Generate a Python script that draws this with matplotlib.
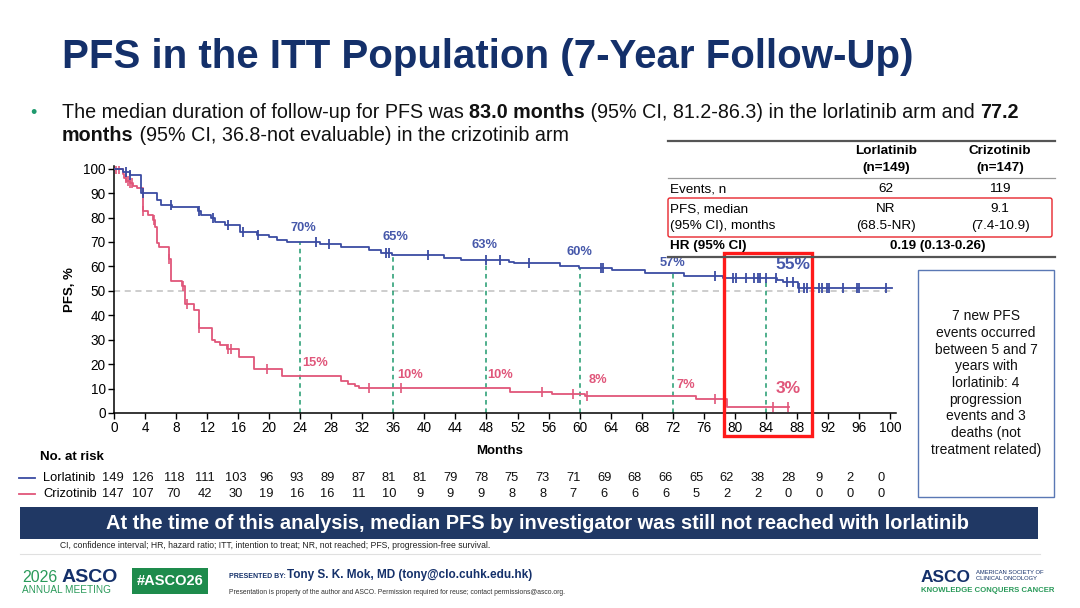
import numpy as np
import matplotlib
matplotlib.use("Agg")
import matplotlib.pyplot as plt
from matplotlib.patches import Rectangle, FancyBboxPatch
from matplotlib.transforms import blended_transform_factory

plt.rcParams['font.family'] = ['Liberation Sans', 'DejaVu Sans']

# --- data ---
lor_t = [0, 1.2, 2.0, 3.5, 5.6, 6.1, 7.5, 10.8, 11.2, 12.5, 13.0, 14.3, 16.3, 18.4, 20.0, 21.0, 22.3,
         26.5, 29.2, 32.8, 34.4, 35.8, 42.5, 44.7, 50.9, 51.6, 57.5, 59.9, 64.2, 68.4, 73.4, 78.5,
         85.4, 86.2, 88.2, 100.2]
lor_s = [100, 98.8, 97.5, 90, 87, 85, 84.3, 82.5, 81, 80, 78.3, 77, 74, 73, 72, 71, 70,
         69, 67.8, 66.8, 65.3, 64.5, 63.5, 62.8, 62, 61.3, 60.3, 59.5, 58.5, 57.3, 56, 55.4,
         54.4, 53.5, 51.2, 51.2]
lor_cens = [1.5, 2.0, 3.8, 7.4, 11.0, 12.8, 14.7, 16.6, 18.5, 26.0, 27.7, 35.0, 35.5, 40.5, 47.9,
            49.8, 53.5, 62.7, 63.0, 77.5, 79.8, 80.2, 81.5, 82.5, 83.0, 83.3, 84.0, 85.3, 86.7,
            87.5, 88.3, 88.9, 89.3, 90.8, 91.3, 91.9, 92.2, 94.0, 95.8, 96.0, 99.5]

criz_t = [0, 1.1, 1.3, 1.6, 2.0, 2.5, 3.0, 3.7, 4.4, 5.0, 5.3, 5.6, 5.8, 7.1, 7.3, 7.4, 8.7, 9.1,
          10.3, 11.0, 12.6, 13.0, 13.6, 14.6, 16.1, 18.1, 21.7, 29.3, 30.2, 31.0, 31.6, 51.0,
          56.4, 60.7, 75.0, 79.0, 87.0]
criz_s = [100, 98, 96, 95, 94, 93, 92, 82.5, 81, 79, 76, 69.5, 68, 63, 55, 54.2, 52, 44.5,
          42.2, 34.8, 30, 29, 28, 26.2, 22.8, 17.9, 15, 13, 12, 11, 10.2, 8.7, 7.6, 6.8, 5.6,
          2.6, 2.6]
criz_cens = [0.3, 0.6, 1.5, 1.8, 2.0, 2.3, 3.7, 5.2, 7.1, 8.9, 9.4, 11.0, 14.7, 15.1, 19.7,
             32.9, 37.0, 55.2, 59.2, 60.9, 77.4, 84.9, 86.8]

landmarks = [24, 36, 48, 60, 72, 84]
lor_land = [70, 65, 63, 60, 57, 55]
criz_land = [15, 10, 10, 8, 7, 3]

risk_months = list(range(0, 101, 4))
lor_risk = [149, 126, 118, 111, 103, 96, 93, 89, 87, 81, 81, 79, 78, 75, 73, 71, 69, 68, 66, 65,
            62, 38, 28, 9, 2, 0]
criz_risk = [147, 107, 70, 42, 30, 19, 16, 16, 11, 10, 9, 9, 9, 8, 8, 7, 6, 6, 6, 5, 2, 2, 0, 0, 0, 0]

BLUE = '#3b4ca2'
RED = '#e0567a'
GREEN = '#1f9a6e'
NAVY = '#14306a'

W, H = 1080, 608


def step_at(t, s, x):
    idx = np.searchsorted(t, x, side='right') - 1
    return np.asarray(s)[idx]


fig = plt.figure(figsize=(W / 100, H / 100), dpi=100)
fig.patch.set_facecolor('white')

# main KM axes (month 0 at px 114, 7.76 px / month; 0% at px 413, 2.443 px / %)
x0, y0 = 114, 413
ax = fig.add_axes([x0 / W, 1 - y0 / H, 100.8 * 7.76 / W, 101 * 2.443 / H])
ax.set_xlim(0, 100.8)
ax.set_ylim(0, 101)
for sp in ['top', 'right']:
    ax.spines[sp].set_visible(False)
ax.spines['left'].set_linewidth(1.1)
ax.spines['bottom'].set_linewidth(1.1)
ax.set_xticks(range(0, 101, 4))
ax.set_yticks(range(0, 101, 10))
ax.tick_params(labelsize=9.8, length=4, width=1, direction='out', pad=2)
ax.set_ylabel('PFS, %', fontsize=9.5, fontweight='bold', labelpad=5)

ax.axhline(50, xmax=100.5 / 100.8, color='#c0c0c0', lw=1.1, ls=(0, (4, 3)), zorder=1)

for m in landmarks:
    ax.plot([m, m], [0, step_at(lor_t, lor_s, m)], color=GREEN, lw=1.1, ls=(0, (3, 2.5)), zorder=2)

ax.plot(criz_t, criz_s, drawstyle='steps-post', color=RED, lw=1.3, zorder=3)
ax.plot(lor_t, lor_s, drawstyle='steps-post', color=BLUE, lw=1.3, zorder=4)
ax.plot(criz_cens, step_at(criz_t, criz_s, criz_cens), ls='none', marker='|', ms=7, mew=1.2,
        color=RED, zorder=3)
ax.plot(lor_cens, step_at(lor_t, lor_s, lor_cens), ls='none', marker='|', ms=7, mew=1.3,
        color=BLUE, zorder=4)

lor_off = [(0.4, 5.8), (0.3, 7.0), (-0.3, 5.8), (0.0, 5.8), (0.0, 4.4), (3.5, 5.9)]
criz_off = [(1.9, 5.4), (2.1, 5.4), (1.7, 5.4), (2.4, 5.4), (1.7, 4.4), (2.9, 7.2)]
for i, m in enumerate(landmarks):
    big = (m == 84)
    ax.text(m + lor_off[i][0], lor_land[i] + lor_off[i][1], f'{lor_land[i]}%', color='#4658aa',
            fontsize=12.5 if big else 9.3, fontweight='bold', ha='center', va='center')
    ax.text(m + criz_off[i][0], criz_land[i] + criz_off[i][1], f'{criz_land[i]}%', color=RED,
            fontsize=12.5 if big else 9.3, fontweight='bold', ha='center', va='center')

# number at risk rows
tr = blended_transform_factory(ax.transData, fig.transFigure)
for vals, yy in [(lor_risk, 478), (criz_risk, 494)]:
    for m, v in zip(risk_months, vals):
        fig.text(m * 0.99 - 0.2, 1 - yy / H, str(v), transform=tr, fontsize=9.3, ha='center',
                 va='center', color='#111111')

# overlay axes in pixel coordinates for slide elements
ov = fig.add_axes([0, 0, 1, 1], zorder=10)
ov.set_xlim(0, W)
ov.set_ylim(H, 0)
ov.axis('off')

ov.text(62, 57, 'PFS in the ITT Population (7-Year Follow-Up)', fontsize=29, fontweight='bold',
        color=NAVY, va='center', ha='left')

# bullet text with bold runs
renderer = fig.canvas.get_renderer()


def runs(x, y, parts, size=14.2):
    for s, wgt in parts:
        t = ov.text(x, y, s, fontsize=size, fontweight=wgt, color='#111111', va='baseline')
        bb = t.get_window_extent(renderer)
        x += bb.width


ov.text(30, 118, '\u2022', fontsize=13, color='#1f9a6e', va='baseline')
runs(62, 118, [('The median duration of follow-up for PFS was ', 'normal'), ('83.0 months', 'bold'),
               (' (95% CI, 81.2-86.3) in the lorlatinib arm and ', 'normal'), ('77.2', 'bold')])
runs(62, 141, [('months', 'bold'), (' (95% CI, 36.8-not evaluable) in the crizotinib arm', 'normal')])

# summary table
ov.plot([668, 1055], [141, 141], color='#555555', lw=1.6)
ov.plot([668, 1055], [177.5, 177.5], color='#9a9a9a', lw=0.9)
ov.plot([668, 1055], [256.5, 256.5], color='#555555', lw=1.6)
ov.add_patch(FancyBboxPatch((668, 198), 384, 39, boxstyle='round,pad=0,rounding_size=2',
                            fill=False, edgecolor='#e8262c', lw=1.0))
tfs = 9.7
for cx, name, n in [(886, 'Lorlatinib', '(n=149)'), (1000, 'Crizotinib', '(n=147)')]:
    ov.text(cx, 151, name, fontsize=tfs, fontweight='bold', ha='center', va='center')
    ov.text(cx, 168, n, fontsize=tfs, fontweight='bold', ha='center', va='center')
ov.text(670, 189, 'Events, n', fontsize=tfs, va='center')
ov.text(886, 189, '62', fontsize=tfs, va='center', ha='center')
ov.text(1000, 189, '119', fontsize=tfs, va='center', ha='center')
ov.text(670, 209, 'PFS, median', fontsize=tfs, va='center')
ov.text(670, 226.5, '(95% CI), months', fontsize=tfs, va='center')
ov.text(886, 209, 'NR', fontsize=tfs, va='center', ha='center')
ov.text(886, 226.5, '(68.5-NR)', fontsize=tfs, va='center', ha='center')
ov.text(1000, 209, '9.1', fontsize=tfs, va='center', ha='center')
ov.text(1000, 226.5, '(7.4-10.9)', fontsize=tfs, va='center', ha='center')
ov.text(670, 246.5, 'HR (95% CI)', fontsize=tfs, fontweight='bold', va='center')
ov.text(938, 246.5, '0.19 (0.13-0.26)', fontsize=tfs, fontweight='bold', va='center', ha='center')

# red highlight box around 78-90 months
ov.add_patch(Rectangle((724, 253), 88, 183, fill=False, edgecolor='#ff1a1a', lw=2.4))

# note box
ov.add_patch(Rectangle((918, 270), 136, 227, facecolor='white', edgecolor='#5a78b4', lw=1.0))
ov.text(986, 383, '7 new PFS\nevents occurred\nbetween 5 and 7\nyears with\nlorlatinib: 4\n'
        'progression\nevents and 3\ndeaths (not\ntreatment related)', fontsize=10,
        ha='center', va='center', linespacing=1.25, color='#111111')

# axis titles / risk labels
ov.text(500, 451, 'Months', fontsize=9.5, fontweight='bold', ha='center', va='center')
ov.text(40, 457, 'No. at risk', fontsize=9.5, fontweight='bold', va='center')
ov.plot([19, 35], [478, 478], color=BLUE, lw=1.3)
ov.plot([19, 35], [494, 494], color=RED, lw=1.3)
ov.text(43, 478, 'Lorlatinib', fontsize=9.3, va='center')
ov.text(43, 494, 'Crizotinib', fontsize=9.3, va='center')

# banner
ov.add_patch(Rectangle((20, 507), 1018, 32, facecolor='#203864', edgecolor='none'))
ov.text(538, 523.5, 'At the time of this analysis, median PFS by investigator was still not reached with lorlatinib',
        fontsize=14.4, fontweight='bold', color='white', ha='center', va='center')
ov.text(275, 546, 'CI, confidence interval; HR, hazard ratio; ITT, intention to treat; NR, not reached; '
        'PFS, progression-free survival.', fontsize=6.2, ha='center', va='center', color='#222222')
ov.plot([20, 1040], [554, 554], color='#e0e0e0', lw=0.8)

# footer
ov.text(22, 577, '2026', fontsize=11.5, color='#2a9a5a', va='center')
ov.text(62, 577, 'ASCO', fontsize=14, color=NAVY, va='center', fontweight='bold')
ov.text(22, 590, 'ANNUAL MEETING', fontsize=7.2, color='#2a9a5a', va='center')
ov.add_patch(Rectangle((132, 568), 76, 26, facecolor='#1e8b4c', edgecolor='none'))
ov.text(170, 581, '#ASCO26', fontsize=10.5, fontweight='bold', color='white', ha='center', va='center')
ov.text(229, 576, 'PRESENTED BY:', fontsize=5, fontweight='bold', color=NAVY, va='center')
ov.text(287, 575, 'Tony S. K. Mok, MD (tony@clo.cuhk.edu.hk)', fontsize=8.5, fontweight='bold',
        color=NAVY, va='center')
ov.text(229, 592, 'Presentation is property of the author and ASCO. Permission required for reuse; '
        'contact permissions@asco.org.', fontsize=4.9, color='#333333', va='center')
ov.text(921, 577, 'ASCO', fontsize=12.5, fontweight='bold', color=NAVY, va='center')
ov.text(976, 573, 'AMERICAN SOCIETY OF', fontsize=4.2, color=NAVY, va='center')
ov.text(976, 579, 'CLINICAL ONCOLOGY', fontsize=4.2, color=NAVY, va='center')
ov.text(921, 591, 'KNOWLEDGE CONQUERS CANCER', fontsize=5.6, fontweight='bold', color='#2a9a5a',
        va='center')

fig.savefig('out.png', dpi=100)
